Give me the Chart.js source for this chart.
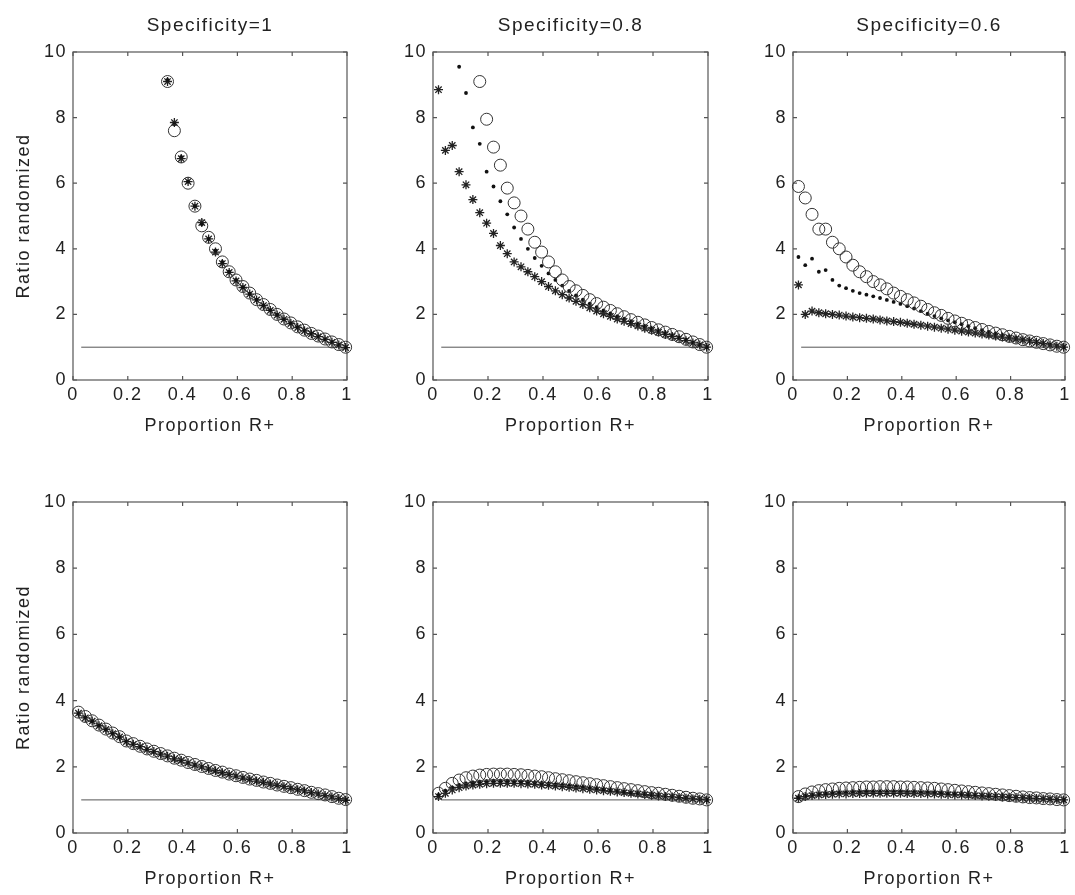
<!DOCTYPE html>
<html>
<head>
<meta charset="utf-8">
<script src="https://cdn.jsdelivr.net/npm/chart.js@4/dist/chart.umd.min.js"></script>
<style>
html,body{margin:0;padding:0;background:#fff;}
body{width:1075px;height:895px;position:relative;overflow:hidden;}
canvas{position:absolute;}
</style>
</head>
<body>
<canvas id="c0"></canvas>
<canvas id="c1"></canvas>
<canvas id="c2"></canvas>
<canvas id="c3"></canvas>
<canvas id="c4"></canvas>
<canvas id="c5"></canvas>
<script>
// ---------------- DATA ----------------
const proportionR = [0.02,0.045,0.07,0.095,0.12,0.145,0.17,0.195,0.22,0.245,
                     0.27,0.295,0.32,0.345,0.37,0.395,0.42,0.445,0.47,0.495,
                     0.52,0.545,0.57,0.595,0.62,0.645,0.67,0.695,0.72,0.745,
                     0.77,0.795,0.82,0.845,0.87,0.895,0.92,0.945,0.97,0.995];

const panelTitles = ['Specificity=1','Specificity=0.8','Specificity=0.6'];
const xAxisLabel = 'Proportion R+';
const yAxisLabel = 'Ratio randomized';
const xTickLabels = ['0','0.2','0.4','0.6','0.8','1'];
const yTickLabels = ['0','2','4','6','8','10'];
const refLineX = [0.03, 1];
const refLineY = [1, 1];

// Top row, specificity = 1
const a1Circle = [null,null,null,null,null,null,null,null,null,null,null,null,null,
  9.1,7.6,6.8,6.0,5.3,4.7,4.35,4.0,3.6,3.3,3.05,2.85,2.65,2.45,2.3,2.15,2.0,1.86,1.74,1.62,1.52,1.42,1.34,1.25,1.16,1.08,1.0];
const a1Dot = [null,null,null,null,null,null,null,null,null,null,null,null,null,
  9.15,7.8,6.8,6.05,5.3,4.75,4.3,3.95,3.6,3.3,3.05,2.83,2.63,2.45,2.28,2.13,1.99,1.85,1.73,1.61,1.51,1.42,1.33,1.24,1.16,1.07,1.0];
const a1Star = [null,null,null,null,null,null,null,null,null,null,null,null,null,
  9.1,7.85,6.75,6.05,5.3,4.8,4.3,3.9,3.55,3.28,3.02,2.82,2.62,2.44,2.27,2.12,1.98,1.85,1.72,1.6,1.5,1.41,1.32,1.24,1.15,1.07,0.99];

// Top row, specificity = 0.8
const a2Circle = [null,null,null,null,null,null,
  9.1,7.95,7.1,6.55,5.85,5.4,5.0,4.6,4.2,3.9,3.6,3.3,3.05,2.85,2.72,2.58,2.45,2.33,2.22,2.12,2.02,1.93,1.84,1.76,1.68,1.6,1.53,1.46,1.39,1.32,1.24,1.16,1.08,1.0];
const a2Dot = [null,null,null,
  9.55,8.75,7.7,7.2,6.35,5.9,5.45,5.05,4.65,4.3,4.0,3.72,3.48,3.25,3.05,2.88,2.72,2.58,2.45,2.33,2.22,2.12,2.03,1.94,1.86,1.78,1.71,1.64,1.57,1.5,1.43,1.37,1.3,1.23,1.15,1.08,1.0];
const a2Star = [8.85,7.0,7.15,6.35,5.95,5.5,5.1,4.78,4.47,4.1,
  3.85,3.6,3.45,3.3,3.15,3.0,2.85,2.72,2.6,2.5,2.4,2.3,2.2,2.1,2.02,1.94,1.86,1.79,1.72,1.65,1.58,1.52,1.46,1.39,1.33,1.27,1.2,1.13,1.07,1.0];

// Top row, specificity = 0.6
const a3Circle = [5.9,5.55,5.05,4.6,4.6,4.2,4.0,3.75,3.5,3.3,3.15,3.0,2.9,2.78,2.65,2.55,2.45,2.35,2.25,2.15,
  2.05,1.97,1.88,1.8,1.73,1.66,1.6,1.54,1.48,1.43,1.38,1.33,1.28,1.23,1.19,1.15,1.11,1.07,1.03,1.0];
const a3Dot = [3.75,3.5,3.7,3.3,3.35,3.05,2.88,2.8,2.72,2.65,2.6,2.55,2.5,2.44,2.38,2.32,2.25,2.18,2.1,2.02,
  1.95,1.88,1.82,1.76,1.7,1.64,1.58,1.52,1.47,1.42,1.37,1.32,1.28,1.24,1.2,1.16,1.12,1.08,1.04,1.0];
const a3Star = [2.9,2.0,2.1,2.05,2.02,2.0,1.98,1.95,1.92,1.9,1.88,1.86,1.83,1.8,1.78,1.76,1.73,1.7,1.67,1.64,
  1.61,1.58,1.55,1.52,1.49,1.46,1.43,1.4,1.37,1.34,1.31,1.28,1.25,1.22,1.19,1.15,1.11,1.07,1.03,1.0];

// Bottom row, left
const b1Circle = [3.65,3.52,3.39,3.26,3.14,3.02,2.91,2.78,2.7,2.62,2.54,2.47,2.4,2.33,2.26,2.2,2.13,2.07,2.01,1.95,
  1.89,1.84,1.78,1.73,1.68,1.63,1.59,1.54,1.5,1.45,1.41,1.37,1.32,1.28,1.23,1.19,1.15,1.1,1.05,1.01];
const b1Dot = [3.6,3.5,3.37,3.25,3.12,3.01,2.89,2.77,2.69,2.6,2.53,2.45,2.39,2.31,2.25,2.18,2.12,2.06,2.0,1.94,
  1.88,1.83,1.77,1.72,1.67,1.62,1.58,1.53,1.49,1.44,1.4,1.36,1.31,1.27,1.22,1.18,1.14,1.09,1.04,1.0];
const b1Star = [3.62,3.48,3.38,3.24,3.13,3.0,2.9,2.76,2.68,2.61,2.52,2.46,2.38,2.32,2.24,2.19,2.12,2.05,2.0,1.93,
  1.88,1.82,1.77,1.72,1.66,1.62,1.57,1.53,1.48,1.44,1.4,1.35,1.31,1.27,1.22,1.18,1.13,1.09,1.04,0.99];

// Bottom row, middle
const b2Circle = [1.2,1.35,1.5,1.6,1.67,1.72,1.75,1.77,1.78,1.78,1.78,1.77,1.76,1.74,1.72,1.7,1.67,1.64,1.61,1.58,
  1.55,1.52,1.49,1.46,1.43,1.4,1.37,1.34,1.31,1.28,1.25,1.22,1.2,1.17,1.14,1.11,1.08,1.05,1.03,1.0];
const b2Dot = [1.15,1.28,1.38,1.45,1.5,1.53,1.55,1.57,1.58,1.58,1.58,1.57,1.56,1.55,1.53,1.51,1.49,1.47,1.45,1.43,
  1.41,1.39,1.36,1.34,1.32,1.3,1.27,1.25,1.23,1.21,1.19,1.17,1.15,1.13,1.11,1.09,1.07,1.05,1.02,1.0];
const b2Star = [1.1,1.2,1.3,1.37,1.42,1.45,1.47,1.49,1.5,1.5,1.5,1.5,1.49,1.48,1.47,1.45,1.44,1.42,1.4,1.38,
  1.36,1.34,1.32,1.3,1.28,1.26,1.24,1.22,1.2,1.18,1.16,1.14,1.12,1.1,1.09,1.07,1.05,1.03,1.02,1.0];

// Bottom row, right
const b3Circle = [1.1,1.18,1.24,1.28,1.31,1.33,1.35,1.36,1.37,1.38,1.39,1.39,1.4,1.4,1.4,1.39,1.39,1.38,1.37,1.36,
  1.35,1.33,1.31,1.29,1.27,1.25,1.23,1.21,1.19,1.17,1.15,1.13,1.11,1.09,1.07,1.06,1.04,1.03,1.01,1.0];
const b3Dot = [1.08,1.13,1.16,1.18,1.2,1.21,1.22,1.23,1.24,1.24,1.25,1.25,1.25,1.25,1.25,1.25,1.24,1.24,1.23,1.23,
  1.22,1.21,1.2,1.19,1.18,1.17,1.16,1.15,1.14,1.13,1.12,1.1,1.09,1.08,1.07,1.05,1.04,1.03,1.01,1.0];
const b3Star = [1.05,1.1,1.13,1.15,1.16,1.17,1.18,1.18,1.19,1.19,1.2,1.2,1.2,1.2,1.2,1.2,1.19,1.19,1.19,1.18,
  1.18,1.17,1.16,1.15,1.15,1.14,1.13,1.12,1.11,1.1,1.09,1.08,1.07,1.06,1.05,1.04,1.03,1.02,1.01,1.0];

// ---------------- LAYOUT ----------------
const panels = [
  {left:73,  top:52,  w:274, h:328, title:panelTitles[0], yTitle:true,  s:[a1Circle,a1Dot,a1Star]},
  {left:433, top:52,  w:275, h:328, title:panelTitles[1], yTitle:false, s:[a2Circle,a2Dot,a2Star]},
  {left:793, top:52,  w:272, h:328, title:panelTitles[2], yTitle:false, s:[a3Circle,a3Dot,a3Star]},
  {left:73,  top:502, w:274, h:331, title:null, yTitle:true,  s:[b1Circle,b1Dot,b1Star]},
  {left:433, top:502, w:275, h:331, title:null, yTitle:false, s:[b2Circle,b2Dot,b2Star]},
  {left:793, top:502, w:272, h:331, title:null, yTitle:false, s:[b3Circle,b3Dot,b3Star]}
];
const Y_W = 73, TOP_H = 52, X_H = 60, RIGHT_PAD = 12;
const FONT = "'Liberation Sans', Arial, Helvetica, sans-serif";
const TXT = '#222';
Chart.defaults.font.family = FONT;
Chart.defaults.color = TXT;

function pts(ys){
  const out = [];
  ys.forEach((v,i)=>{ if(v!==null) out.push({x:proportionR[i], y:v}); });
  return out;
}

const spacing = {
  id:'spacing',
  beforeUpdate(c){ c.ctx.letterSpacing = '1.5px'; },
  beforeDraw(c){ c.ctx.letterSpacing = '1.5px'; }
};
const frame = {
  id:'frame',
  beforeDatasetsDraw(chart){
    const {ctx, chartArea:a, scales:{x,y}} = chart;
    ctx.save();
    ctx.strokeStyle = '#555';
    ctx.lineWidth = 1.2;
    ctx.strokeRect(a.left, a.top, a.right - a.left, a.bottom - a.top);
    ctx.beginPath();
    const L = 4;
    x.ticks.forEach(t=>{
      const px = x.getPixelForValue(t.value);
      ctx.moveTo(px, a.bottom); ctx.lineTo(px, a.bottom - L);
      ctx.moveTo(px, a.top); ctx.lineTo(px, a.top + L);
    });
    y.ticks.forEach(t=>{
      const py = y.getPixelForValue(t.value);
      ctx.moveTo(a.left, py); ctx.lineTo(a.left + L, py);
      ctx.moveTo(a.right, py); ctx.lineTo(a.right - L, py);
    });
    ctx.stroke();
    ctx.restore();
  }
};

panels.forEach((p, idx)=>{
  const cv = document.getElementById('c'+idx);
  const W = Y_W + p.w + RIGHT_PAD, H = TOP_H + p.h + X_H;
  cv.width = W; cv.height = H;
  cv.style.left = (p.left - Y_W) + 'px';
  cv.style.top = (p.top - TOP_H) + 'px';
  cv.style.width = W + 'px'; cv.style.height = H + 'px';

  new Chart(cv.getContext('2d'), {
    type:'scatter',
    data:{
      datasets:[
        {data:pts(p.s[0]), pointStyle:'circle', pointRadius:6, borderColor:'#333', backgroundColor:'rgba(0,0,0,0)', borderWidth:1, clip:false},
        {data:pts(p.s[1]), pointStyle:'circle', pointRadius:1.9, borderColor:'#111', backgroundColor:'#111', borderWidth:0, clip:false},
        {data:pts(p.s[2]), pointStyle:'star', pointRadius:4.5, borderColor:'#222', backgroundColor:'#222', borderWidth:1.3, clip:false},
        {data:refLineX.map((x,i)=>({x:x, y:refLineY[i]})), showLine:true, pointRadius:0, borderColor:'#555', borderWidth:1, clip:false}
      ]
    },
    options:{
      responsive:false,
      animation:false,
      events:[],
      devicePixelRatio:1,
      layout:{padding:{left:0, right:RIGHT_PAD, top: p.title ? 0 : TOP_H, bottom:0}},
      plugins:{
        legend:{display:false},
        tooltip:{enabled:false},
        title:{
          display: !!p.title,
          fullSize:false,
          text: p.title || '',
          color: TXT,
          font:{size:19, weight:'normal', family:FONT},
          padding:{top:14, bottom:52 - 14 - 19*1.2}
        }
      },
      scales:{
        x:{
          type:'linear', min:0, max:1,
          afterFit(s){ s.height = X_H; },
          grid:{display:false, drawTicks:false},
          border:{display:false},
          ticks:{stepSize:0.2, padding:4, color:TXT, font:{size:18}, maxRotation:0,
                 callback:(v,i)=>xTickLabels[i]},
          title:{display:true, text:xAxisLabel, color:TXT, font:{size:18}, padding:{top:0, bottom:3}}
        },
        y:{
          type:'linear', min:0, max:10,
          afterFit(s){ s.width = Y_W; },
          grid:{display:false, drawTicks:false},
          border:{display:false},
          ticks:{stepSize:2, padding:6, color:TXT, font:{size:18},
                 callback:(v,i)=>yTickLabels[i]},
          title:{display:p.yTitle, text:yAxisLabel, color:TXT, font:{size:18}, padding:{top:13, bottom:0}}
        }
      }
    },
    plugins:[spacing, frame]
  });
});
</script>
</body>
</html>
